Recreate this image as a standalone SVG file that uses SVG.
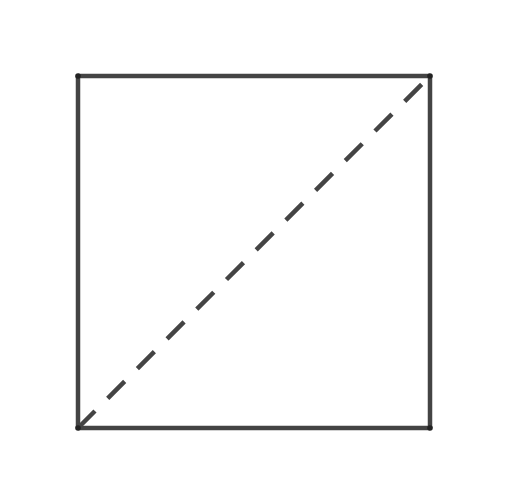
<svg xmlns="http://www.w3.org/2000/svg" width="525" height="495" viewBox="0 0 525 495">
<style>
.edge{stroke:#444;stroke-width:4.5;fill:none}
.diag{stroke:#444;stroke-width:4.5;fill:none;stroke-dasharray:24 18}
.pt{fill:#222}
</style>
<rect width="525" height="495" fill="#fff"/>
<g id="connectors">
<line class="edge" x1="78" y1="76" x2="430" y2="76"/>
<line class="edge" x1="430" y1="76" x2="430" y2="428"/>
<line class="edge" x1="430" y1="428" x2="78" y2="428"/>
<line class="edge" x1="78" y1="428" x2="78" y2="76"/>
<line class="diag" x1="78" y1="428" x2="430" y2="76"/>
</g>
<g id="A"><circle class="pt" cx="78" cy="76" r="2.8"/></g>
<g id="B"><circle class="pt" cx="430" cy="76" r="2.8"/></g>
<g id="C"><circle class="pt" cx="430" cy="428" r="2.8"/></g>
<g id="D"><circle class="pt" cx="78" cy="428" r="2.8"/></g>
</svg>
